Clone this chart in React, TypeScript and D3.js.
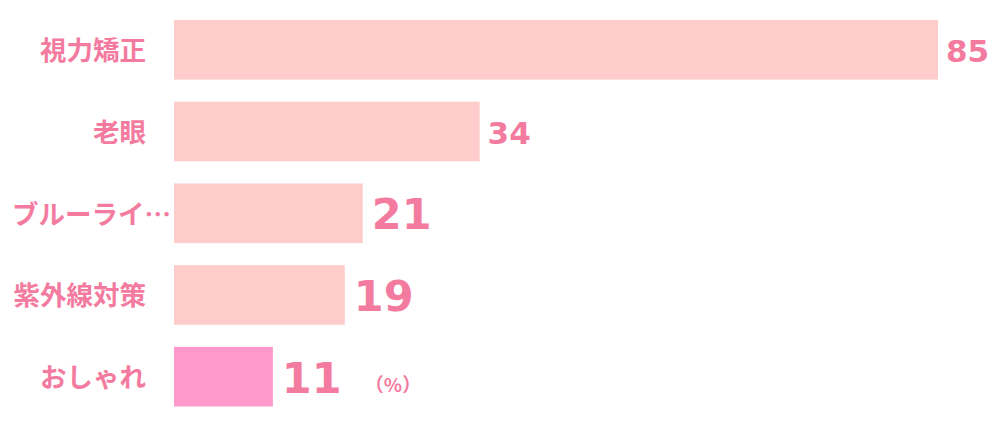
import React from "react";
import * as d3 from "d3";

const categories = ["視力矯正", "老眼", "ブルーライ…", "紫外線対策", "おしゃれ"];
const values = [85, 34, 21, 19, 11];
const highlighted = [false, false, false, false, true];
const bigValue = [false, false, true, true, true];
const unitLabel = "（%）";

const W = 1000;
const H = 424;
const TEXT = "#F47BA0";
const BAR = "#FFCCCC";
const BAR_HI = "#FF99CC";

export default function App() {
  const x = d3.scaleLinear().domain([0, 85]).range([174, 938]);
  const y = d3
    .scaleBand<string>()
    .domain(categories)
    .range([20, 406.5])
    .paddingInner(0.27)
    .paddingOuter(0);
  const font = "'Noto Sans CJK JP', 'Noto Sans', sans-serif";
  const numFont = "'DejaVu Sans', Verdana, sans-serif";
  const last = categories[categories.length - 1];
  return (
    <svg
      width={W}
      height={H}
      style={{ position: "absolute", left: 0, top: 0, background: "#fff" }}
    >
      {categories.map((c, i) => {
        const yc = (y(c) as number) + y.bandwidth() / 2;
        const truncated = c.endsWith("…");
        return (
          <g key={c}>
            <rect
              x={x(0)}
              y={y(c)}
              width={x(values[i]) - x(0)}
              height={y.bandwidth()}
              fill={highlighted[i] ? BAR_HI : BAR}
            />
            <text
              x={truncated ? 12 : 146}
              y={yc - 1}
              textAnchor={truncated ? "start" : "end"}
              dominantBaseline="central"
              fontFamily={font}
              fontWeight="bold"
              fontSize={26.5}
              fill={TEXT}
            >
              {c}
            </text>
            <text
              x={x(values[i]) + (bigValue[i] ? 9 : 8)}
              y={yc + 1}
              dominantBaseline="central"
              fontFamily={numFont}
              fontWeight="bold"
              fontSize={bigValue[i] ? 43 : 31}
              fill={TEXT}
            >
              {values[i]}
            </text>
          </g>
        );
      })}
      <text
        x={x(values[values.length - 1]) + 92}
        y={(y(last) as number) + y.bandwidth() / 2 + 7}
        dominantBaseline="central"
        fontFamily={font}
        fontWeight="bold"
        fontSize={19}
        fill={TEXT}
      >
        {unitLabel}
      </text>
    </svg>
  );
}
